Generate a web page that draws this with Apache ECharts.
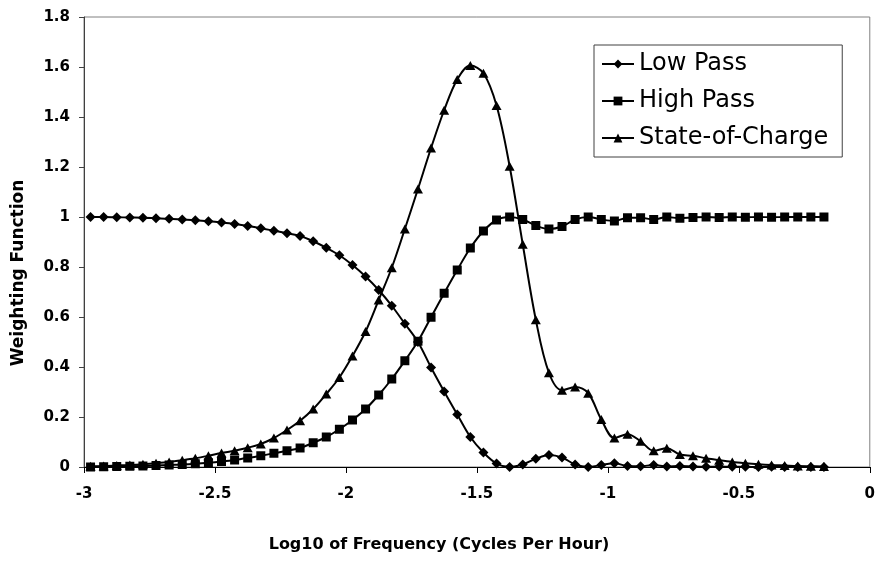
<!DOCTYPE html>
<html>
<head>
<meta charset="utf-8">
<script src="https://cdn.jsdelivr.net/npm/echarts@6/dist/echarts.min.js"></script>
<style>
html,body{margin:0;padding:0;background:#fff;}
#chart{width:878px;height:578px;}
</style>
</head>
<body>
<div id="chart"></div>
<script>
// Log10 of frequency (x positions of the samples)
var xValues = [
  -2.975,-2.925,-2.875,-2.825,-2.775,-2.725,-2.675,-2.625,-2.575,-2.525,
  -2.475,-2.425,-2.375,-2.325,-2.275,-2.225,-2.175,-2.125,-2.075,-2.025,
  -1.975,-1.925,-1.875,-1.825,-1.775,-1.725,-1.675,-1.625,-1.575,-1.525,
  -1.475,-1.425,-1.375,-1.325,-1.275,-1.225,-1.175,-1.125,-1.075,-1.025,
  -0.975,-0.925,-0.875,-0.825,-0.775,-0.725,-0.675,-0.625,-0.575,-0.525,
  -0.475,-0.425,-0.375,-0.325,-0.275,-0.225,-0.175
];
var lowPass = [
  1.0,1.0,0.999,0.998,0.997,0.995,0.993,0.99,0.987,0.983,
  0.978,0.972,0.964,0.955,0.945,0.935,0.924,0.903,0.877,0.847,
  0.808,0.762,0.708,0.645,0.573,0.5,0.398,0.302,0.21,0.12,
  0.058,0.014,0.0,0.01,0.033,0.048,0.038,0.01,0.0,0.008,
  0.015,0.004,0.003,0.008,0.002,0.004,0.002,0.001,0.002,0.001,
  0.001,0.0,0.001,0.0,0.0,0.0,0.0
];
var highPass = [
  0.0,0.001,0.002,0.003,0.004,0.006,0.008,0.01,0.013,0.017,
  0.022,0.028,0.036,0.045,0.055,0.065,0.076,0.097,0.12,0.151,
  0.188,0.232,0.288,0.352,0.425,0.503,0.599,0.695,0.788,0.876,
  0.944,0.988,1.0,0.99,0.966,0.952,0.962,0.99,1.0,0.99,
  0.984,0.997,0.997,0.99,1.0,0.995,0.998,1.0,0.998,1.0,
  0.999,1.0,0.999,1.0,1.0,1.0,1.0
];
var stateOfCharge = [
  0.003,0.004,0.006,0.008,0.011,0.015,0.02,0.027,0.035,0.045,
  0.056,0.065,0.077,0.092,0.116,0.148,0.185,0.232,0.292,0.358,
  0.444,0.542,0.668,0.797,0.952,1.112,1.276,1.427,1.55,1.606,
  1.575,1.446,1.203,0.891,0.589,0.377,0.307,0.32,0.295,0.19,
  0.116,0.131,0.103,0.065,0.075,0.05,0.045,0.035,0.027,0.02,
  0.015,0.011,0.008,0.006,0.004,0.003,0.002
];
var seriesNames = ['Low Pass','High Pass','State-of-Charge'];
var xAxisTitle = 'Log10 of Frequency (Cycles Per Hour)';
var yAxisTitle = 'Weighting Function';

function pairs(ys){ return xValues.map(function(x,i){ return [x, ys[i]]; }); }

var chart = echarts.init(document.getElementById('chart'), null, {renderer:'canvas'});
var FONT = '"DejaVu Sans", "Liberation Sans", Arial, sans-serif';
function lineSeries(name, ys, symbol, size){
  return {
    name: name, type: 'line', data: pairs(ys), smooth: 0.35,
    symbol: symbol, symbolSize: size, showSymbol: true,
    lineStyle: {color:'#000', width:2},
    itemStyle: {color:'#000', borderColor:'#000', borderWidth:0},
    emphasis: {disabled:true}, z: 3
  };
}
chart.setOption({
  animation: false,
  backgroundColor: '#fff',
  grid: {left:84, right:7, top:17, bottom:111, show:true, borderColor:'#808080', borderWidth:1, backgroundColor:'transparent'},
  xAxis: {
    type:'value', min:-3, max:0, interval:0.5,
    axisLine:{show:true, onZero:false, lineStyle:{color:'#000', width:1}},
    axisTick:{show:true, inside:false, length:6, lineStyle:{color:'#000'}},
    splitLine:{show:false},
    axisLabel:{color:'#000', fontFamily:FONT, fontWeight:'bold', fontSize:15, margin:20}
  },
  yAxis: {
    type:'value', min:0, max:1.8, interval:0.2,
    axisLine:{show:true, onZero:false, lineStyle:{color:'#404040', width:1}},
    axisTick:{show:true, inside:false, length:5, lineStyle:{color:'#404040'}},
    splitLine:{show:false},
    axisLabel:{color:'#000', fontFamily:FONT, fontWeight:'bold', fontSize:15, margin:14}
  },
  legend: {
    orient:'vertical', left:594, top:45,
    padding:[7,14,7,7], itemGap:13, itemWidth:32, itemHeight:11,
    borderColor:'#404040', borderWidth:1, backgroundColor:'#fff',
    textStyle:{color:'#000', fontFamily:FONT, fontSize:24, lineHeight:23},
    data: seriesNames
  },
  graphic: [
    {type:'text', x:439, y:545, z:10, style:{text:xAxisTitle, fill:'#000', font:'bold 16px ' + FONT, align:'center', verticalAlign:'middle'}},
    {type:'text', x:19, y:273, rotation:Math.PI/2, z:10, style:{text:yAxisTitle, fill:'#000', font:'bold 17px ' + FONT, align:'center', verticalAlign:'middle'}}
  ],
  series: [
    lineSeries(seriesNames[0], lowPass, 'diamond', 10),
    lineSeries(seriesNames[1], highPass, 'rect', 9),
    lineSeries(seriesNames[2], stateOfCharge, 'triangle', [10,9])
  ]
});
</script>
</body>
</html>
